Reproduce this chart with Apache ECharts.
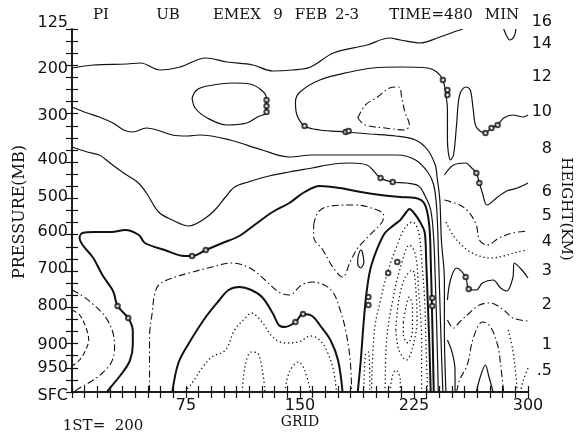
<!DOCTYPE html>
<html><head><meta charset="utf-8">
<script src="https://cdn.jsdelivr.net/npm/echarts@6/dist/echarts.min.js"></script>
<style>html,body{margin:0;padding:0;background:#fff}#c{width:583px;height:438px}</style>
</head><body><div id="c"></div>
<script>
// ---- axis tick labels ----
const xLabelValues = [75, 150, 225, 300];
const pressureLabels = ['SFC','950','900','800','700','600','500','400','300','200','125'];
const pressureLevels = [0, 24, 47, 86, 123, 160, 195, 232, 276, 323, 363];
const heightLabels = ['.5','1','2','3','4','5','6','8','10','12','14','16'];
const heightLevels = [21, 47, 87, 121, 150, 176, 200, 243, 280, 315, 348, 363];

// ---- contour lines: [grid, vertical level] ----
const lineA  = [[0,324],[14,327],[36,328],[45,329],[58,322],[71,325],[88,334],[102,330],[119,327],[132,321],[145,322],[157,325],[172,339],[194,347],[209,354],[216,352],[229,349],[242,355],[253,361],[257,363]];
const lineA2 = [[284,363],[286,356],[288,352],[291,356],[292,363]];
const loopB  = [[79,294],[82,302],[89,306],[106,309],[117,308],[126,300],[128,292],[128,280],[122,275],[115,269],[102,267],[89,274],[81,284],[79,294]];
const lineC  = [[300,277],[297,275],[290,277],[284,274],[280,267],[276,264],[272,259],[266,265],[264,282],[262,302],[259,305],[255,297],[253,267],[251,237],[249,232],[247,252],[247,282],[246,297],[244,312],[240,320],[234,324],[216,325],[198,324],[183,320],[163,312],[150,300],[147,290],[148,277],[153,266],[163,262],[180,260],[196,258],[213,256],[226,252],[234,242],[239,227],[240,217],[242,192],[243,152],[245,112],[245,62],[246,0]];
const loopCin = [[188,274],[193,287],[201,295],[209,304],[215,305],[217,294],[219,280],[222,267],[219,262],[206,264],[193,267],[188,274]];
const lineC2 = [[0,285],[10,279],[18,275],[27,269],[34,262],[40,260],[49,264],[56,262],[66,257],[76,256],[84,257],[104,252],[125,242],[143,235],[158,237],[183,237],[214,237],[226,232],[234,220],[238,207],[240,182],[241,142],[242,92],[243,42],[244,0]];
const lineD  = [[0,245],[10,240],[18,237],[25,229],[34,219],[43,210],[49,199],[57,180],[66,172],[77,166],[86,172],[94,182],[101,195],[107,205],[116,210],[127,215],[143,220],[158,224],[172,228],[183,229],[194,227],[203,214],[211,210],[220,209],[228,206],[232,197],[236,182],[238,152],[239,112],[240,62],[241,0]];
const lineE  = [[23,0],[25,4],[32,17],[38,31],[40,47],[40,61],[37,74],[30,86],[27,101],[20,117],[14,134],[7,147],[5,154],[7,159],[15,160],[26,160],[35,162],[44,157],[48,149],[61,142],[74,136],[79,136],[88,142],[99,149],[110,156],[120,167],[132,180],[143,189],[153,200],[163,206],[176,204],[190,200],[203,197],[216,195],[226,194],[232,188],[235,167],[236,132],[237,72],[238,0]];
const arcF1  = [[0,102],[5,98],[13,89],[22,75],[27,59],[28,44],[26,30],[20,19],[13,11],[5,4],[1,0]];
const arcF2  = [[0,82],[5,77],[9,65],[11,52],[9,42],[5,32],[0,26]];
const lineG  = [[51,0],[51,32],[51,55],[53,82],[54,95],[57,107],[66,114],[77,119],[92,125],[105,129],[117,124],[127,112],[136,100],[143,97],[151,107],[158,110],[166,107],[172,99],[176,84],[180,62],[183,32],[184,0]];
const lineH  = [[66,0],[70,29],[77,49],[88,75],[97,92],[103,102],[110,105],[118,102],[125,95],[132,79],[136,67],[140,65],[147,70],[152,78],[158,76],[163,67],[170,52],[175,32],[178,0]];
const capW   = [[188,0],[190,32],[192,72],[194,102],[197,127],[205,157],[211,166],[216,172],[220,180],[222,183],[225,179],[229,170],[232,160],[233,132],[234,92],[235,52],[236,0]];
const dropT  = [[159,167],[162,180],[170,186],[186,187],[197,184],[205,177],[204,170],[196,157],[188,144],[183,130],[178,115],[172,124],[165,142],[159,155],[159,167]];
const ovalS  = [[188,134],[190,142],[191,140],[192,130],[190,124],[188,128],[188,134]];
const dotP1  = [[74,0],[79,9],[86,25],[92,35],[101,42],[107,62],[114,74],[118,79],[125,70],[132,55],[140,49],[149,50],[157,56],[163,52],[168,40],[172,22],[174,0]];
const dotP2  = [[112,0],[114,27],[118,40],[122,39],[125,24],[127,0]];
const dotP3  = [[140,0],[143,20],[149,30],[153,22],[157,0]];
const dotD1  = [[197,0],[199,62],[203,92],[208,122],[214,147],[219,164],[224,170],[228,160],[230,132],[232,92],[233,42],[234,0]];
const dotD2  = [[206,0],[207,52],[211,92],[216,124],[222,147],[226,137],[228,102],[230,52],[230,0]];
const dotD3  = [[213,62],[215,92],[219,114],[224,122],[226,107],[227,72],[224,44],[220,32],[215,42],[213,62]];
const dotD4  = [[218,70],[220,87],[222,95],[224,85],[224,62],[221,49],[218,57],[218,70]];
const dotD5  = [[192,0],[193,37],[195,40],[196,0]];
const dotD6  = [[209,0],[211,17],[213,22],[216,12],[216,0]];
const lineR1 = [[245,217],[251,227],[259,229],[263,224],[266,219],[268,209],[270,199],[273,187],[280,195],[286,201],[293,204],[300,209]];
const lineR2 = [[245,192],[255,187],[261,180],[266,167],[268,152],[273,147],[281,154],[290,159],[300,161]];
const dotR3  = [[246,170],[251,156],[257,146],[262,140],[268,136],[276,134],[284,136],[293,140],[300,142]];
const lineR5 = [[247,92],[249,112],[253,124],[259,115],[261,103],[266,102],[270,109],[277,112],[282,104],[286,101],[290,114],[291,129],[296,122],[300,114]];
const lineR6 = [[247,72],[251,64],[255,70],[260,77],[268,87],[275,89],[284,82],[290,74],[300,71]];
const lineR7 = [[253,0],[255,12],[260,27],[264,54],[270,70],[275,66],[280,47],[282,27],[284,0]];
const lineR8 = [[247,52],[250,40],[252,22],[252,0]];
const lineR9 = [[266,0],[269,17],[272,27],[274,17],[277,0]];
const dotR10 = [[287,62],[290,42],[292,17],[293,0]];
const dotR11 = [[300,24],[297,12],[295,0]];
// contour label markers
const markerPts = [[128,292],[128,286],[128,280],[244,312],[247,302],[247,297],[272,259],[276,264],[280,267],[153,266],[180,260],[182,261],[203,214],[211,210],[79,136],[88,142],[30,86],[37,74],[147,70],[152,78],[266,219],[268,209],[259,115],[261,103],[195,95],[195,87],[208,119],[214,130],[237,94],[237,86]];

const INK = '#111';
const groups = [
  {lines:[lineA,lineA2,loopB,lineC,lineC2,lineD,lineR1,lineR5,lineR8,lineR9,ovalS], width:1.2, type:'solid'},
  {lines:[lineE,lineH,capW], width:2, type:'solid'},
  {lines:[arcF1,lineG,loopCin,dropT,lineR2,lineR6,lineR7], width:1.1, type:[7,3,1.5,3]},
  {lines:[arcF2], width:1.1, type:[5,3]},
  {lines:[dotP1,dotP2,dotP3,dotD1,dotD2,dotD3,dotD4,dotD5,dotD6,dotR3,dotR10,dotR11], width:1.3, type:[1.3,2.8]}
];
const series = [];
groups.forEach(g => g.lines.forEach(d => series.push({
  type:'line', data:d, smooth:0.35, showSymbol:false, silent:true,
  lineStyle:{color:INK, width:g.width, type:g.type}
})));
series.push({type:'scatter', data:markerPts, symbol:'emptyCircle', symbolSize:4.5, silent:true, z:5,
  itemStyle:{color:INK, borderColor:INK, borderWidth:1}});

function lookup(vals, labels, topTag, bottomTag){
  return v => {
    const i = vals.findIndex(x => Math.abs(x - v) < 0.01);
    if (i < 0) return '';
    if (i === vals.length - 1 && topTag) return '{' + topTag + '|' + labels[i] + '}';
    if (i === 0 && bottomTag) return '{' + bottomTag + '|' + labels[i] + '}';
    return labels[i];
  };
}
const NUMF = {fontFamily:'DejaVu Sans', fontSize:16, color:INK};
const rich = {
  up: Object.assign({padding:[0,0,12,0]}, NUMF),
  up2: Object.assign({padding:[0,0,14,0]}, NUMF),
  dn: Object.assign({padding:[8,0,0,0]}, NUMF)
};
const axisLine = {show:true, lineStyle:{color:INK, width:1.5}};
const tick = {show:true, inside:true, length:6, lineStyle:{color:INK, width:1.2}};

const chart = echarts.init(document.getElementById('c'), null, {renderer:'canvas'});
chart.setOption({
  animation:false,
  backgroundColor:'#fff',
  grid:{left:72, right:55, top:29, bottom:46},
  xAxis:[
    {type:'value', min:0, max:300, interval:300/36, position:'bottom',
     axisLine, axisTick:tick, splitLine:{show:false},
     axisLabel:Object.assign({customValues:xLabelValues, margin:6, hideOverlap:false}, NUMF)},
    {type:'value', min:0, max:300, interval:300/36, position:'top',
     axisLine, axisTick:tick, splitLine:{show:false}, axisLabel:{show:false}}
  ],
  yAxis:[
    {type:'value', min:0, max:363, interval:12.1, position:'left',
     axisLine, axisTick:tick, splitLine:{show:false},
     axisLabel:Object.assign({customValues:pressureLevels, margin:4, hideOverlap:false,
       showMinLabel:true, showMaxLabel:true, rich,
       formatter:lookup(pressureLevels, pressureLabels, 'up', 'dn')}, NUMF)},
    {type:'value', min:0, max:363, interval:12.1, position:'right',
     axisLine, axisTick:tick, splitLine:{show:false},
     axisLabel:Object.assign({customValues:heightLevels, margin:24, align:'right', hideOverlap:false,
       showMinLabel:true, showMaxLabel:true, rich,
       formatter:lookup(heightLevels, heightLabels, 'up2', null)}, NUMF)}
  ],
  graphic:[
    {type:'text', x:101, y:15, style:{text:'PI', font:'15px "DejaVu Serif"', fill:INK, textAlign:'center', textVerticalAlign:'middle'}},
    {type:'text', x:168, y:15, style:{text:'UB', font:'15px "DejaVu Serif"', fill:INK, textAlign:'center', textVerticalAlign:'middle'}},
    {type:'text', x:237, y:15, style:{text:'EMEX', font:'15px "DejaVu Serif"', fill:INK, textAlign:'center', textVerticalAlign:'middle'}},
    {type:'text', x:278, y:15, style:{text:'9', font:'15px "DejaVu Serif"', fill:INK, textAlign:'center', textVerticalAlign:'middle'}},
    {type:'text', x:311, y:15, style:{text:'FEB', font:'15px "DejaVu Serif"', fill:INK, textAlign:'center', textVerticalAlign:'middle'}},
    {type:'text', x:347, y:15, style:{text:'2-3', font:'15px "DejaVu Serif"', fill:INK, textAlign:'center', textVerticalAlign:'middle'}},
    {type:'text', x:431, y:15, style:{text:'TIME=480', font:'15px "DejaVu Serif"', fill:INK, textAlign:'center', textVerticalAlign:'middle'}},
    {type:'text', x:502, y:15, style:{text:'MIN', font:'15px "DejaVu Serif"', fill:INK, textAlign:'center', textVerticalAlign:'middle'}},
    {type:'text', x:20, y:212, rotation:Math.PI/2, style:{text:'PRESSURE(MB)', font:'16px "DejaVu Serif"', fill:INK, textAlign:'center', textVerticalAlign:'middle'}},
    {type:'text', x:566, y:209, rotation:-Math.PI/2, style:{text:'HEIGHT(KM)', font:'15px "DejaVu Serif"', fill:INK, textAlign:'center', textVerticalAlign:'middle'}},
    {type:'text', x:300, y:422, style:{text:'GRID', font:'14px "DejaVu Serif"', fill:INK, textAlign:'center', textVerticalAlign:'middle'}},
    {type:'text', x:84, y:426, style:{text:'1ST=', font:'15px "DejaVu Serif"', fill:INK, textAlign:'center', textVerticalAlign:'middle'}},
    {type:'text', x:129, y:426, style:{text:'200', font:'15px "DejaVu Serif"', fill:INK, textAlign:'center', textVerticalAlign:'middle'}}
  ],
  series
});
</script>
</body></html>
